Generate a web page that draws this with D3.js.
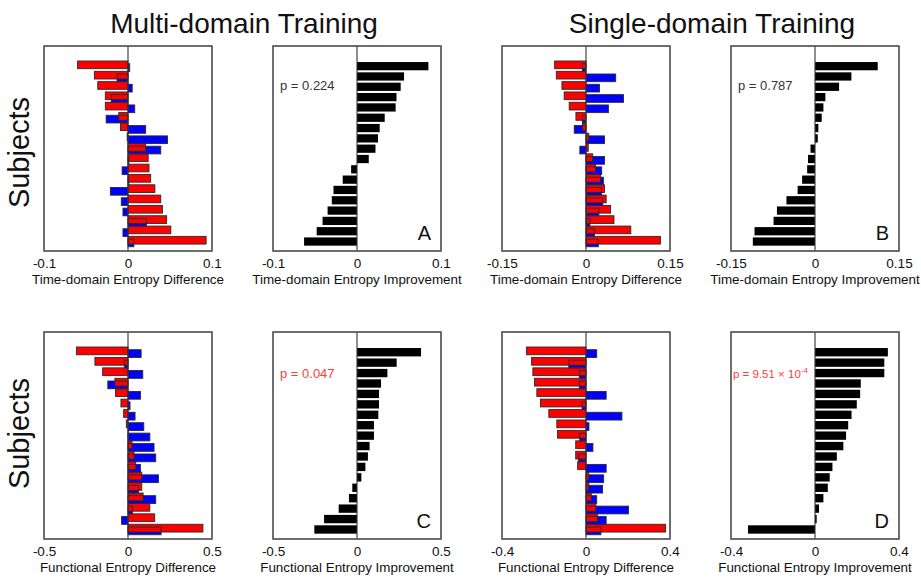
<!DOCTYPE html>
<html><head><meta charset="utf-8">
<script src="https://cdn.jsdelivr.net/npm/d3@7"></script>
<style>
body{margin:0;background:#fff}
svg{display:block;font-family:"Liberation Sans",Arial,sans-serif}
</style>
</head><body>
<svg id="chart" width="921" height="578"></svg>
<script>
// ---------- data ----------
const subjects = [1,2,3,4,5,6,7,8,9,10,11,12,13,14,15,16,17,18];

const multiTimeRed  = [-0.060,-0.040,-0.036,-0.027,-0.027,-0.011,-0.009,-0.001,0.021,0.024,0.025,0.027,0.032,0.039,0.041,0.046,0.051,0.093];
const multiTimeBlue = [0.002,-0.013,0.005,-0.020,0.008,-0.026,0.021,0.047,0.039,0.001,-0.007,0.001,-0.021,-0.008,-0.006,0.022,-0.006,0.007];
const multiTimeImprovement = [0.085,0.056,0.052,0.047,0.046,0.033,0.027,0.025,0.022,0.014,-0.007,-0.017,-0.028,-0.030,-0.035,-0.041,-0.048,-0.063];

const singleTimeRed  = [-0.056,-0.053,-0.043,-0.039,-0.030,-0.018,-0.0065,0.005,0.004,0.012,0.017,0.026,0.033,0.036,0.044,0.050,0.080,0.133];
const singleTimeBlue = [-0.0065,0.053,0.024,0.067,0.040,-0.0065,-0.021,0.033,-0.011,0.033,0.028,0.031,0.028,0.030,0.023,0.007,0.015,0.022];
const singleTimeImprovement = [0.112,0.065,0.043,0.0185,0.015,0.012,0.006,0.005,-0.008,-0.0125,-0.014,-0.023,-0.031,-0.051,-0.068,-0.074,-0.108,-0.111];

const multiFuncRed  = [-0.307,-0.197,-0.151,-0.078,-0.074,-0.042,-0.026,-0.010,0.002,0.024,0.036,0.046,0.082,0.082,0.090,0.130,0.159,0.446];
const multiFuncBlue = [0.078,-0.022,0.088,-0.120,0.074,0.012,0.042,0.094,0.130,0.155,0.165,0.074,0.181,0.062,0.165,0.026,-0.038,0.197];
const multiFuncImprovement = [0.381,0.236,0.181,0.143,0.131,0.131,0.127,0.101,0.101,0.075,0.065,0.050,0.026,-0.028,-0.048,-0.109,-0.196,-0.254];

const singleFuncRed  = [-0.283,-0.259,-0.253,-0.245,-0.234,-0.217,-0.177,-0.139,-0.136,-0.049,-0.049,-0.040,0.013,0.013,0.025,0.047,0.055,0.379];
const singleFuncBlue = [0.051,-0.082,-0.032,-0.032,0.096,-0.019,0.171,0.014,-0.030,0.033,-0.035,0.096,0.084,0.079,0.051,0.202,0.096,0.071];
const singleFuncImprovement = [0.347,0.330,0.330,0.218,0.215,0.199,0.174,0.158,0.148,0.135,0.104,0.083,0.070,0.061,0.040,0.019,0.008,-0.319];

const ticksTime01  = [-0.1, 0, 0.1];
const ticksTime015 = [-0.15, 0, 0.15];
const ticksFunc05  = [-0.5, 0, 0.5];
const ticksFunc04  = [-0.4, 0, 0.4];

const pValues = ["p = 0.224", "p = 0.787", "p = 0.047", "p = 9.51 \u00d7 10"];
const panelLetters = ["A", "B", "C", "D"];

// ---------- layout ----------
const svg = d3.select("#chart");
const colX = [44, 273, 502, 731];
const panelW = 168;
const rowY = [{top: 46, bottom: 251}, {top: 332, bottom: 539}];
const RED = "#ff0000", BLUE = "#0000ff";
const FRAME = "#5a5a5a";

const panels = [
  {col:0,row:0,kind:"diff",red:multiTimeRed,blue:multiTimeBlue,ticks:ticksTime01,label:"Time-domain Entropy Difference"},
  {col:1,row:0,kind:"imp",vals:multiTimeImprovement,ticks:ticksTime01,label:"Time-domain Entropy Improvement",p:0,pColor:"#333",letter:0},
  {col:2,row:0,kind:"diff",red:singleTimeRed,blue:singleTimeBlue,ticks:ticksTime015,label:"Time-domain Entropy Difference"},
  {col:3,row:0,kind:"imp",vals:singleTimeImprovement,ticks:ticksTime015,label:"Time-domain Entropy Improvement",p:1,pColor:"#333",letter:1},
  {col:0,row:1,kind:"diff",red:multiFuncRed,blue:multiFuncBlue,ticks:ticksFunc05,label:"Functional Entropy Difference"},
  {col:1,row:1,kind:"imp",vals:multiFuncImprovement,ticks:ticksFunc05,label:"Functional Entropy Improvement",p:2,pColor:"#ff3c3c",letter:2},
  {col:2,row:1,kind:"diff",red:singleFuncRed,blue:singleFuncBlue,ticks:ticksFunc04,label:"Functional Entropy Difference"},
  {col:3,row:1,kind:"imp",vals:singleFuncImprovement,ticks:ticksFunc04,label:"Functional Entropy Improvement",p:3,pColor:"#ff3c3c",letter:3,small:true}
];

function fmt(v){ return v === 0 ? "0" : String(v); }

panels.forEach(P => {
  const x0 = colX[P.col], x1 = x0 + panelW;
  const {top, bottom} = rowY[P.row];
  const ext = P.ticks[P.ticks.length-1];
  const x = d3.scaleLinear().domain([-ext, ext]).range([x0, x1]);
  const y = d3.scaleBand().domain(subjects).range([top + 15, bottom - 4.3]).paddingInner(0).paddingOuter(0);
  const step = y.step();
  const g = svg.append("g");

  g.append("rect").attr("x", x0).attr("y", top).attr("width", panelW).attr("height", bottom - top)
    .attr("fill", "#fff").attr("stroke", FRAME).attr("stroke-width", 1.3);

  const bx = v => x(Math.min(0, v));
  const bw = v => Math.abs(x(v) - x(0));

  if (P.kind === "diff") {
    const redY = s => y(s);
    const blueY = s => y(s) + 0.26 * step;
    const h = 0.745 * step;
    const blueData = subjects.map((s,i) => ({s, v: P.blue[i]}));
    const redData = subjects.map((s,i) => ({s, v: P.red[i]}));
    g.selectAll(".bf").data(blueData).join("rect")
      .attr("x", d => bx(d.v)).attr("y", d => blueY(d.s)).attr("width", d => bw(d.v)).attr("height", h)
      .attr("fill", BLUE);
    g.selectAll(".rf").data(redData).join("rect")
      .attr("x", d => bx(d.v)).attr("y", d => redY(d.s)).attr("width", d => bw(d.v)).attr("height", h)
      .attr("fill", RED);
    g.selectAll(".bo").data(blueData).join("rect")
      .attr("x", d => bx(d.v)).attr("y", d => blueY(d.s)).attr("width", d => bw(d.v)).attr("height", h)
      .attr("fill", "none").attr("stroke", "#2a2a2a").attr("stroke-width", 0.9);
    g.selectAll(".ro").data(redData).join("rect")
      .attr("x", d => bx(d.v)).attr("y", d => redY(d.s)).attr("width", d => bw(d.v)).attr("height", h)
      .attr("fill", "none").attr("stroke", "#2a2a2a").attr("stroke-width", 0.9);
  } else {
    const data = subjects.map((s,i) => ({s, v: P.vals[i]}));
    g.selectAll(".kb").data(data).join("rect")
      .attr("x", d => bx(d.v)).attr("y", d => y(d.s) + 0.1 * step).attr("width", d => bw(d.v)).attr("height", 0.8 * step)
      .attr("fill", "#000");
  }

  g.append("line").attr("x1", x(0)).attr("x2", x(0)).attr("y1", top).attr("y2", bottom)
    .attr("stroke", "#333").attr("stroke-width", 1.1);

  g.append("rect").attr("x", x0).attr("y", top).attr("width", panelW).attr("height", bottom - top)
    .attr("fill", "none").attr("stroke", FRAME).attr("stroke-width", 1.3);

  const axis = d3.axisBottom(x).tickValues(P.ticks).tickFormat(fmt).tickSize(0).tickPadding(0);
  const ag = g.append("g").attr("transform", `translate(0,${bottom})`).call(axis);
  ag.select(".domain").remove();
  ag.selectAll("text").attr("dy", null).attr("y", 16.5).attr("font-size", 13.5)
    .attr("font-family", "Liberation Sans, Arial, sans-serif").attr("fill", "#111");

  g.append("text").attr("x", (x0 + x1) / 2).attr("y", bottom + 32.5).attr("text-anchor", "middle")
    .attr("font-size", 13.4).attr("fill", "#111").text(P.label);

  if (P.kind === "imp") {
    const t = g.append("text").attr("x", P.small ? x0 + 2 : x0 + 7).attr("y", P.row === 0 ? top + 44 : top + 45.5)
      .attr("font-size", P.small ? 11.5 : 13).attr("fill", P.pColor).text(pValues[P.p]);
    if (P.small) {
      t.append("tspan").attr("font-size", 8).attr("dy", -5).text("-4");
    }
    g.append("text").attr("x", x1 - 10).attr("y", bottom - 11).attr("text-anchor", "end")
      .attr("font-size", 20).attr("fill", "#111").text(panelLetters[P.letter]);
  }
});

svg.append("text").attr("x", 244).attr("y", 33).attr("text-anchor", "middle")
  .attr("font-size", 28).attr("fill", "#111").text("Multi-domain Training");
svg.append("text").attr("x", 712).attr("y", 33).attr("text-anchor", "middle")
  .attr("font-size", 28).attr("fill", "#111").text("Single-domain Training");
[ (46+251)/2 + 4, (332+539)/2 - 2 ].forEach(cy => {
  svg.append("text").attr("transform", `translate(29,${cy}) rotate(-90)`).attr("text-anchor", "middle")
    .attr("font-size", 29).attr("fill", "#111").text("Subjects");
});
</script>
</body></html>
